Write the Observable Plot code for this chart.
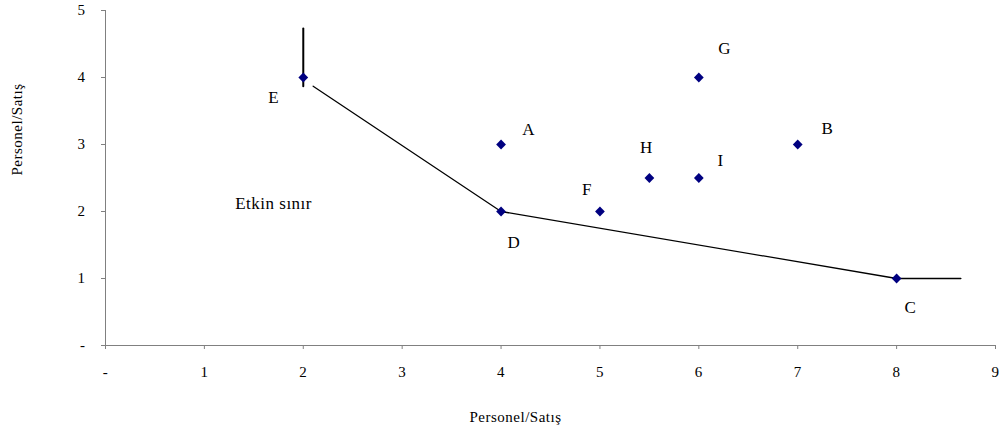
<!DOCTYPE html>
<html><head><meta charset="utf-8">
<script src="https://cdn.jsdelivr.net/npm/d3@7"></script>
<script src="https://cdn.jsdelivr.net/npm/@observablehq/plot@0.6"></script>
<style>body{margin:0;background:#fff}</style>
</head><body><div id="chart"></div>
<script>
const names = ["A","B","C","D","E","F","G","H","I"];
const xVals = [4,7,8,4,2,5,6,5.5,6];
const yVals = [3,3,1,2,4,2,4,2.5,2.5];
const labelX = [4.28,7.30,8.14,4.13,1.70,4.87,6.26,5.47,6.22];
const labelY = [3.22,3.24,0.57,1.54,3.70,2.33,4.43,2.96,2.76];
const frontierX = [2.1,4,8,8.65];
const frontierY = [3.87,2,1,1];
const verticalX = [2,2];
const verticalY = [4.73,3.87];
const regionLabel = ["Etkin sınır"];
const regionX = [1.70];
const regionY = [2.12];
const xTicks = [0,1,2,3,4,5,6,7,8,9];
const yTicks = [0,1,2,3,4,5];
const axisTitle = "Personel/Satış";

const pts = names.map((n,i)=>({name:n,x:xVals[i],y:yVals[i],lx:labelX[i],ly:labelY[i]}));
const frontier = frontierX.map((x,i)=>({x,y:frontierY[i]}));
const vertical = verticalX.map((x,i)=>({x,y:verticalY[i]}));
const region = regionLabel.map((t,i)=>({t,x:regionX[i],y:regionY[i]}));
const fmt = d => d === 0 ? "-" : String(d);
const font = "'Liberation Serif','Times New Roman',serif";

const chart = Plot.plot({
  width: 1002, height: 432,
  marginLeft: 105, marginRight: 7, marginTop: 10, marginBottom: 87,
  style: {fontFamily: font, fontSize: "15px", background: "#fff", color: "#000"},
  x: {domain: [0,9]},
  y: {domain: [0,5]},
  marks: [
    Plot.ruleX([0], {y1: 0, y2: 5, stroke: "#808080"}),
    Plot.ruleY([0], {x1: 0, x2: 9, stroke: "#808080"}),
    Plot.axisX({ticks: xTicks, tickFormat: fmt, tickSize: 4, tickPadding: 17, stroke: "#808080", label: null, fontSize: 15}),
    Plot.axisY({ticks: yTicks, tickFormat: fmt, tickSize: 4, tickPadding: 16, stroke: "#808080", label: null, fontSize: 15}),
    Plot.line(vertical, {x: "x", y: "y", stroke: "#000", strokeWidth: 2}),
    Plot.line(frontier, {x: "x", y: "y", stroke: "#000", strokeWidth: 1.3}),
    Plot.dot(pts, {x: "x", y: "y", symbol: "diamond2", r: 4.4, fill: "#000080", stroke: "none"}),
    Plot.text(pts, {x: "lx", y: "ly", text: "name", fontSize: 17, fill: "#000"}),
    Plot.text(region, {x: "x", y: "y", text: "t", fontSize: 17, fill: "#000", style: "letter-spacing:0.6px"}),
    Plot.text([axisTitle], {frameAnchor: "bottom-left", lineAnchor: "middle", dx: 364, dy: 72, fontSize: 15, fill: "#000"}),
    Plot.text([axisTitle], {frameAnchor: "left", lineAnchor: "middle", rotate: -90, dx: -88, dy: -2.5, fontSize: 15, fill: "#000"})
  ]
});
// slight letter spacing to match the reference's wider text setting
d3.select(chart).selectAll("text").style("letter-spacing", "0.5px");
document.getElementById("chart").appendChild(chart);
</script>
</body></html>
